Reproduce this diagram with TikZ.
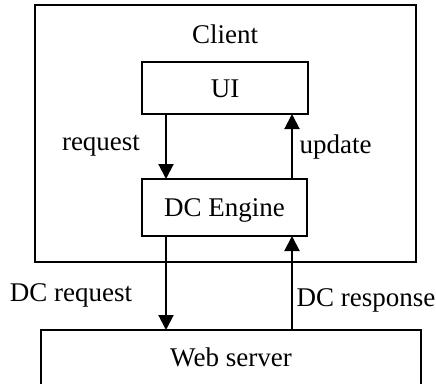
\documentclass[tikz,border=0pt]{standalone}
\usepackage{fontspec}
\setmainfont{Liberation Serif}
\usetikzlibrary{arrows.meta}
\begin{document}
\begin{tikzpicture}[x=1pt,y=-1pt,
  box/.style={draw,line width=2.6pt,inner sep=0pt,outer sep=0pt,anchor=north west,text height=18pt,text depth=0pt},
  lbl/.style={anchor=base,inner sep=0pt},
  arr/.style={line width=2pt,-{Triangle[length=15pt,width=15pt]}},
  font=\fontsize{27}{32}\selectfont]
\useasboundingbox (0,0) rectangle (436,383);
\clip (0,0) rectangle (436,383);
\node[box,minimum width=381pt,minimum height=257pt] (client) at (35,5) {};
\node[lbl] (clientlbl) at (225,43) {Client};
\node[box,minimum width=166pt,minimum height=52pt] (ui) at (142,62) {UI};
\node[box,minimum width=165pt,minimum height=57pt] (dce) at (142,179) {DC Engine};
\node[box,minimum width=380pt,minimum height=80pt,text depth=24.6pt] (web) at (41,330) {Web server};
\coordinate (xl) at (166,0);
\coordinate (xr) at (292,0);
\draw[arr] (ui.south -| xl) -- (dce.north -| xl);
\draw[arr] (dce.north -| xr) -- (ui.south -| xr);
\draw[arr] (dce.south -| xl) -- (web.north -| xl);
\draw[arr] (web.north -| xr) -- (dce.south -| xr);
\node[lbl] (req) at (101,150.5) {request};
\node[lbl] (upd) at (335.5,153) {update};
\node[lbl] (dcreq) at (71,301.7) {DC request};
\node[lbl] (dcresp) at (366,306) {DC response};
\end{tikzpicture}
\end{document}
